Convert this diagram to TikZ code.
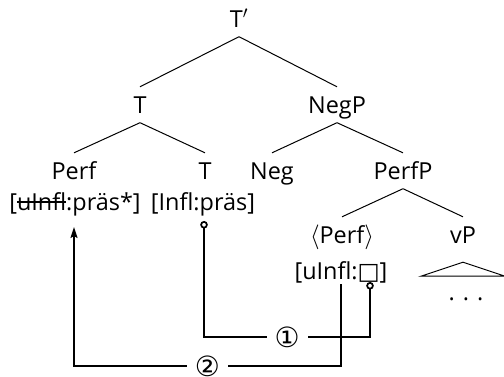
\documentclass[tikz,border=0pt]{standalone}
\usepackage{fontspec}
\setmainfont{Open Sans}
\newfontfamily\symfont{DejaVu Sans}
\usetikzlibrary{arrows.meta,calc}
\newsavebox\strikebox
\newcommand\struck[1]{\sbox\strikebox{#1}\rlap{\usebox\strikebox}\rule[0.3em]{\wd\strikebox}{0.07em}}

\begin{document}
\begin{tikzpicture}[x=1bp,y=-1bp,
  every node/.style={font=\fontsize{23.5}{27}\selectfont},
  lbl/.style={anchor=base,inner xsep=0pt,inner ysep=9.5bp,text height=16.5bp,text depth=0pt},
  feat/.style={anchor=base,inner sep=0pt},
  num/.style={midway,fill=white,inner xsep=8bp,inner ysep=0pt,font=\symfont\fontsize{28}{30}\selectfont},
  branch/.style={line width=1bp},
  agree/.style={line width=1.7bp}]
\useasboundingbox (0,0) rectangle (504,376);

% tree
\node[lbl] (Tbar) at (239,27) {T$'$};
\node[lbl] (T) at (140,113) {T};
\node[lbl] (NegP) at (337,113) {NegP};
\node[lbl] (Perf) at (74,179) {Perf};
\node[lbl] (Thead) at (205,179) {T};
\node[lbl] (Neg) at (272,179) {Neg};
\node[lbl] (PerfP) at (403,179) {PerfP};
\node[lbl] (PerfCopy) at (342,243) {$\langle$Perf$\rangle$};
\node[lbl] (vP) at (463,243) {vP};

\draw[branch] (Tbar.south) -- (T.north);
\draw[branch] (Tbar.south) -- (NegP.north);
\draw[branch] (T.south) -- (Perf.north);
\draw[branch] (T.south) -- (Thead.north);
\draw[branch] (NegP.south) -- (Neg.north);
\draw[branch] (NegP.south) -- (PerfP.north);
\draw[branch] (PerfP.south) -- (PerfCopy.north);
\draw[branch] (PerfP.south) -- (vP.north);
\draw[branch] (vP.south) ++(0,9.5) -- ++(-42,14) -- ++(84,0) -- cycle;

% features
\node[feat] (PerfFeat) at (75,210) {[\struck{uInfl}:präs*]};
\node[feat] (TFeat) at (203,210) {[Infl:präs]};
\node[feat] (CopyFeat) at (341,279) {[uInfl:{\symfont □}]};
\node[feat] (dots) at (466,300) {. . .};

% agreement
\coordinate (TPin) at (204,221);
\coordinate (CopyPin) at (370,282);
\coordinate (CopyFoot) at (341,284);
\coordinate (PerfPin) at (74,227);

\draw[agree,{Circle[open,length=7.5bp]}-{Circle[open,length=7.5bp]}] (TPin) -- (TPin |- 0,337) -- node[num] {①} (CopyPin |- 0,337) -- (CopyPin);
\draw[agree,-{Stealth[length=11bp,width=7bp,inset=2bp]}] (CopyFoot) -- (CopyFoot |- 0,366) -- node[num] {②} (PerfPin |- 0,366) -- (PerfPin);
\end{tikzpicture}
\end{document}
